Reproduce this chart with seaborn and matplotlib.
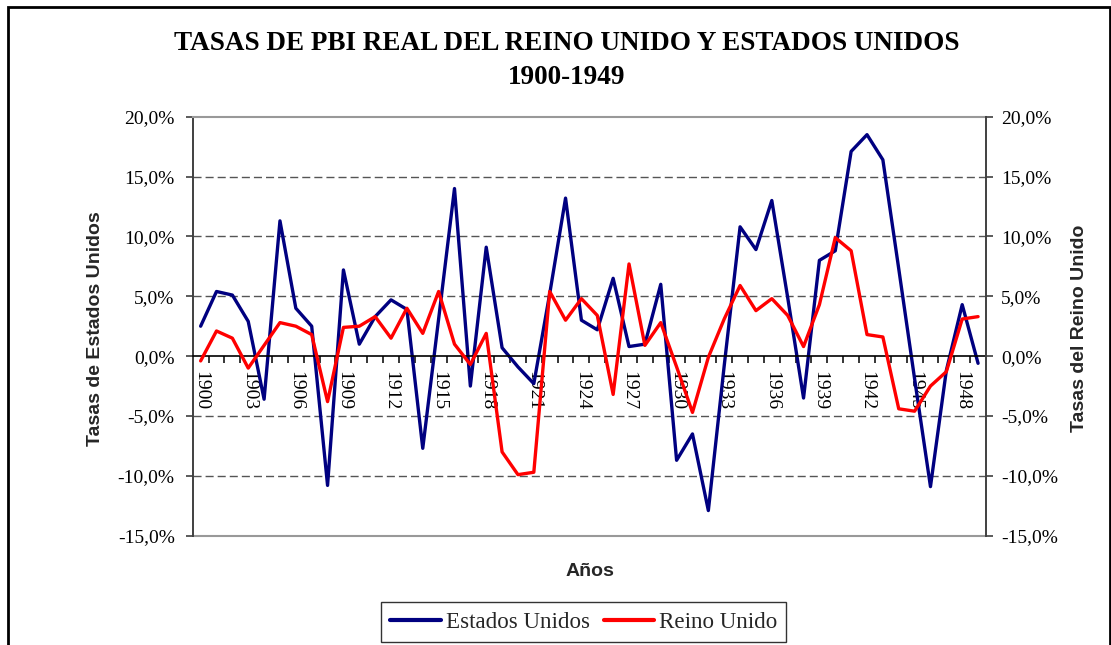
import matplotlib
matplotlib.use('Agg')
import matplotlib.pyplot as plt
import seaborn as sns
import pandas as pd
from matplotlib.ticker import FixedLocator, FuncFormatter
from matplotlib.patches import Rectangle

years = list(range(1900, 1950))
us = [2.5, 5.4, 5.1, 2.9, -3.6, 11.3, 4.0, 2.5, -10.8, 7.2,
      1.0, 3.3, 4.7, 3.9, -7.7, 3.1, 14.0, -2.5, 9.1, 0.7,
      -0.9, -2.3, 5.2, 13.2, 3.0, 2.2, 6.5, 0.8, 1.0, 6.0,
      -8.7, -6.5, -12.9, -0.8, 10.8, 8.9, 13.0, 4.9, -3.5, 8.0,
      8.8, 17.1, 18.5, 16.4, 7.3, -1.9, -10.9, -1.2, 4.3, -0.6]
uk = [-0.4, 2.1, 1.5, -1.0, 0.9, 2.8, 2.5, 1.8, -3.8, 2.4,
      2.5, 3.3, 1.5, 4.0, 1.9, 5.4, 1.0, -0.7, 1.9, -8.0,
      -9.9, -9.7, 5.4, 3.0, 4.8, 3.4, -3.2, 7.7, 0.9, 2.8,
      -0.9, -4.7, -0.1, 3.1, 5.9, 3.8, 4.8, 3.4, 0.8, 4.3,
      9.9, 8.8, 1.8, 1.6, -4.4, -4.6, -2.5, -1.3, 3.1, 3.3]
yticks = [-15, -10, -5, 0, 5, 10, 15, 20]
label_years = list(range(1900, 1950, 3))

title1 = "TASAS DE PBI REAL DEL REINO UNIDO Y ESTADOS UNIDOS"
title2 = "1900-1949"

sns.set_theme(style='white')
plt.rcParams['font.family'] = ['Liberation Serif', 'DejaVu Serif']

df = pd.DataFrame({'Año': years, 'Estados Unidos': us, 'Reino Unido': uk})

W, H = 1111, 645
fig = plt.figure(figsize=(W / 100, H / 100), dpi=100)
fig.patch.set_facecolor('white')

L, R, T, B = 192.7, 986.0, 116.7, 535.7
ax = fig.add_axes([L / W, 1 - B / H, (R - L) / W, (B - T) / H])

sns.lineplot(data=df, x='Año', y='Estados Unidos', ax=ax, color='#000080',
             lw=2.4, label='Estados Unidos', legend=False)
ax2 = ax.twinx()
sns.lineplot(data=df, x='Año', y='Reino Unido', ax=ax2, color='#FF0000',
             lw=2.4, label='Reino Unido', legend=False)

for a in (ax, ax2):
    a.set_xlim(1899.5, 1949.5)
    a.set_ylim(-15, 20)
    a.set_ylabel('')
    a.set_xlabel('')
    a.yaxis.set_major_locator(FixedLocator(yticks))
    a.yaxis.set_major_formatter(FuncFormatter(lambda v, p: ('%.1f%%' % v).replace('.', ',')))

# grid
for v in yticks[1:-1]:
    if v != 0:
        ax.axhline(v, color='#555555', lw=1.0, ls=(0, (5.8, 2.9)), zorder=0)
ax.axhline(-15, color='#999999', lw=1.5, zorder=0, clip_on=False)

# spines
ax.spines['top'].set_color('#999999')
ax.spines['top'].set_linewidth(1.5)
ax.spines['left'].set_color('#404040')
ax.spines['left'].set_linewidth(1.4)
ax.spines['right'].set_visible(False)
ax.spines['bottom'].set_position(('data', 0))
ax.spines['bottom'].set_color('black')
ax.spines['bottom'].set_linewidth(1.2)
for s in ('top', 'left', 'bottom'):
    ax2.spines[s].set_visible(False)
ax2.spines['right'].set_color('#404040')
ax2.spines['right'].set_linewidth(1.4)

# x ticks
ax.xaxis.set_major_locator(FixedLocator(label_years))
ax.set_xticklabels([str(y) for y in label_years], rotation=-90, fontsize=14,
                   va='top', ha='center')
ax.xaxis.set_minor_locator(FixedLocator([y + 0.5 for y in years[:-1]]))
ax.tick_params(axis='x', which='major', length=0, pad=11, colors='black')
ax.tick_params(axis='x', which='minor', length=5, width=1.1, direction='out',
               color='black', bottom=True)
ax.tick_params(axis='y', which='major', length=5, width=1.2, direction='out',
               color='#404040', labelsize=14, pad=8, left=True, labelcolor='black')
ax2.tick_params(axis='y', which='major', length=5, width=1.2, direction='out',
                color='#404040', labelsize=14, pad=6, right=True, labelcolor='black')
ax2.tick_params(axis='x', which='both', bottom=False, top=False, labelbottom=False)

# axis titles
sans = ['Liberation Sans', 'DejaVu Sans']
fig.text(95 / W, 1 - 329 / H, 'Tasas de Estados Unidos', rotation=90, ha='center',
         va='center', fontsize=14, fontweight='bold', family=sans)
fig.text(1080 / W, 1 - 328 / H, 'Tasas del Reino Unido', rotation=90, ha='center',
         va='center', fontsize=14, fontweight='bold', family=sans)
fig.text(590 / W, 1 - 572 / H, 'Años', ha='center', va='center', fontsize=14,
         fontweight='bold', family=sans)

# title
fig.text(567 / W, 1 - 44 / H, title1, ha='center', va='center', fontsize=19.5,
         fontweight='bold', color='black')
fig.text(567 / W, 1 - 77 / H, title2, ha='center', va='center', fontsize=19.5,
         fontweight='bold', color='black')

# legend
h1, l1 = ax.get_legend_handles_labels()
h2, l2 = ax2.get_legend_handles_labels()
leg = fig.legend(h1 + h2, l1 + l2, loc='center', bbox_to_anchor=(583.8 / W, 1 - 622 / H),
                 ncol=2, fontsize=16.6, frameon=True, fancybox=False, handlelength=2.2,
                 handletextpad=0.2, columnspacing=0.6, borderpad=0.4, borderaxespad=0)
leg.get_frame().set_edgecolor('black')
leg.get_frame().set_linewidth(1.0)
for ln in leg.get_lines():
    ln.set_linewidth(3.0)

# outer border
fig.patches.append(Rectangle((8 / W, -0.05), (1110 - 8) / W, (H - 6.5) / H + 0.05,
                             transform=fig.transFigure, fill=False, ec='black',
                             lw=2.0, zorder=10))

fig.savefig('out.png', dpi=100, facecolor='white')
